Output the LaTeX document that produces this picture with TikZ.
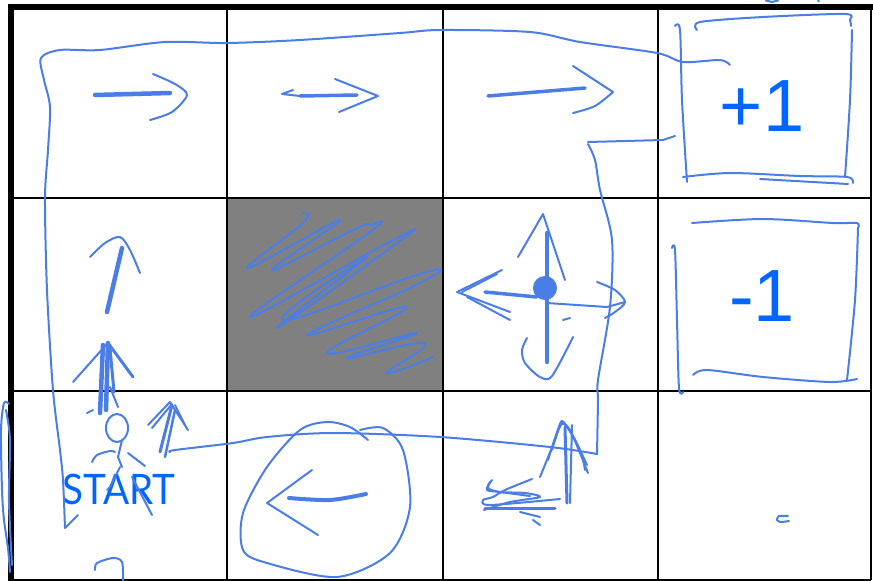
\documentclass[tikz,border=0pt]{standalone}
\usepackage{fontspec}
\setmainfont{Liberation Sans}
\newfontfamily\startfont{Lato}
\usepackage{tikz}
\definecolor{ink}{HTML}{4A7EE6}
\definecolor{label}{HTML}{0066FF}
\definecolor{wall}{HTML}{808080}

\begin{document}
\begin{tikzpicture}[
  x=1pt,y=-1pt,
  pen/.style={draw=ink,line width=2pt,line cap=round,line join=round},
  fatpen/.style={pen,line width=4.5pt},
  grid/.style={draw=black,line width=2pt},
  border/.style={draw=black,line width=6pt},
  reward/.style={text=label,inner sep=0pt,font=\fontsize{74}{74}\selectfont}
]
\useasboundingbox (0,0) rectangle (873,581);
\fill[white] (0,0) rectangle (873,581);

% the board
\fill[wall] (227,198) rectangle (443,391);
\draw[grid] (227,8) -- (227,579) (443,8) -- (443,579) (658,8) -- (658,579);
\draw[grid] (11,198) -- (871,198) (11,391) -- (871,391);
\draw[grid] (871,8) -- (871,580) (11,579.5) -- (871,579.5);
\draw[border] (11,7) -- (873,7) (11,4) -- (11,581);

% labels
\node[reward] (plus) at (762,106) {+1};
\node[reward] (minus) at (762,296) {-1};
\node[text=label,inner sep=0pt,xscale=0.92,font=\startfont\fontsize{42}{42}\selectfont] (start) at (119,489) {START};

% route around the top
\draw[pen] (78,515) -- (65,528);
\draw[pen] plot[smooth] coordinates {(65,528) (63,480) (60,450) (53,390) (47,290) (45,198) (48,150) (50,107) (44,80) (41,58)
  (60,50) (100,50) (165,42) (227,43) (300,40) (400,33) (440,30) (530,32) (580,42) (657,53) (683,62) (720,60) (730,65)};
% route along the bottom
\draw[pen] plot[smooth] coordinates {(170,452) (175,450) (233,443) (267,437) (333,433) (440,437) (550,447) (597,454)};
\draw[pen] plot[smooth] coordinates {(597,454) (598,400) (598,380) (610,307) (612,240) (600,190) (595,160) (588,144)};
\draw[pen] (588,142) -- (663,140) -- (675,136);

% +1 box
\draw[pen] plot[smooth] coordinates {(675,26) (680,30) (682,100) (687,182)};
\draw[pen] plot[smooth] coordinates {(697,30) (700,22) (763,17) (845,14) (850,20) (851,26)};
\draw[pen] plot[smooth] coordinates {(852,30) (850,100) (845,177)};
\draw[pen] plot[smooth] coordinates {(683,177) (730,173) (800,176) (847,177) (853,183)};
\draw[pen] (760,179) -- (848,184);

% -1 box
\draw[pen] plot[smooth] coordinates {(692,223) (763,219) (833,223) (857,223) (858,228)};
\draw[pen] plot[smooth] coordinates {(858,228) (855,300) (847,380)};
\draw[pen] plot[smooth] coordinates {(672,248) (675,250) (677,320) (679,388) (683,392)};
\draw[pen] plot[smooth] coordinates {(693,375) (707,370) (763,377) (830,382) (857,379)};

% top row arrows
\draw[fatpen] (95,95) -- (170,93);
\draw[pen] plot[smooth] coordinates {(153,74) (175,84) (187,95) (172,112) (150,120)};
\draw[pen] (293,90) -- (282,94) -- (300,96);
\draw[fatpen,line width=3.5pt] (300,96) -- (357,95);
\draw[pen] (335,79) -- (378,96) -- (339,112);
\draw[fatpen,line width=3.5pt] (488,96) -- (585,88);
\draw[pen] (573,66) -- (613,92);
\draw[pen] plot[smooth] coordinates {(613,92) (595,106) (573,113)};

% up arrows on the left
\draw[fatpen] (107,312) -- (122,248);
\draw[pen] plot[smooth] coordinates {(90,257) (105,243) (120,237) (130,250) (140,273)};
\draw[fatpen] (100,413) -- (103,345);
\draw[fatpen] (106,410) -- (108,343);
\draw[fatpen,line width=3pt] (114,392) -- (110,348);
\draw[pen] (73,382) -- (106,345);
\draw[fatpen,line width=3pt] (108,343) -- (133,377);
\draw[pen] (87,413) -- (93,410) (110,387) -- (118,407);
\draw[pen] (148,425) -- (170,402) -- (188,430);
\draw[pen] (152,428) -- (172,404);
\draw[fatpen,line width=3pt] (160,452) -- (172,405);
\draw[fatpen,line width=2.5pt] (165,457) -- (175,410);
\draw[pen] (175,405) -- (185,425);

% stick figure
\draw[pen] (117,428) ellipse[x radius=11,y radius=14];
\draw[pen] (122,440) -- (118,457) -- (122,467);
\draw[pen] plot[smooth] coordinates {(92,462) (97,455) (110,451) (115,452)};
\draw[pen] (128,453) -- (145,466);
\draw[pen] (120,467) -- (110,487) -- (107,490);
\draw[pen] (132,477) -- (152,515);
\draw[pen] plot[smooth] coordinates {(95,570) (97,563) (113,558) (122,562) (123,581)};

% left margin scribble
\draw[pen] plot[smooth] coordinates {(9,404) (4,403) (1,430) (2,490) (4,520) (8,548) (10,572)};
\draw[pen] plot[smooth] coordinates {(6,410) (10,440) (9,500) (12,565)};

% circled left arrow
\draw[pen] plot[smooth] coordinates {(368,440) (350,427) (327,422) (300,430) (267,467) (243,513) (243,550)
  (267,563) (337,577) (390,553) (410,507) (403,450) (383,428) (360,430)};
\draw[pen] (312,470) -- (267,503) -- (318,535);
\draw[fatpen,line width=4pt] plot[smooth] coordinates {(289,498) (330,500) (366,494)};

% four-way arrows
\draw[pen] (518,257) -- (543,214) -- (565,280);
\draw[fatpen] (547,233) -- (547,362);
\draw[pen,fill=ink] (545,288) circle[radius=11];
\draw[pen] (502,270) -- (457,292) -- (510,312);
\draw[pen] (467,297) -- (510,320);
\draw[pen] (497,274) -- (462,292);
\draw[fatpen,line width=3.5pt] (485,292) -- (537,297);
\draw[pen] (547,303) -- (607,307) -- (625,302);
\draw[pen] plot[smooth] coordinates {(597,282) (615,290) (625,302) (615,312) (605,318)};
\draw[pen] plot[smooth] coordinates {(527,338) (522,350) (525,363) (540,377) (552,376) (573,337)};
\draw[pen] (563,320) -- (570,318);

% stacked arrows
\draw[pen] plot[smooth,tension=0.4] coordinates {(540,477) (555,440) (562,421) (575,440) (587,465)};
\draw[pen] plot[smooth,tension=0.4] coordinates {(548,460) (560,425) (570,430) (588,473)};
\draw[pen] plot[smooth,tension=0.5] coordinates {(552,450) (563,423) (580,450) (585,470)};
\draw[fatpen,line width=3pt] (565,427) -- (567,503);
\draw[pen] (572,425) -- (570,503);
\draw[pen] plot[smooth] coordinates {(532,479) (505,490) (493,497) (483,500) (490,505) (560,499)};
\draw[pen] plot[smooth] coordinates {(492,480) (488,488) (500,492) (525,493) (540,497) (510,502) (484,510)};
\draw[fatpen,line width=3pt] (485,508) -- (555,508);
\draw[pen] plot[smooth] coordinates {(490,482) (487,490) (500,492) (530,496)};
\draw[pen] (520,512) -- (540,517) (533,520) -- (540,525);

% blocked cell scribble
\draw[pen] plot[smooth,tension=0.75] coordinates {(303,213) (303,223) (248,268) (340,220) (272,270) (353,230)
  (370,225) (370,232) (250,317) (393,240) (397,243) (277,328) (367,257) (283,320) (423,273) (420,283)
  (307,335) (407,307) (327,353) (417,333) (347,358) (425,343) (387,373) (433,357)};

% small marks
\draw[pen] plot[smooth] coordinates {(788,516) (779,516) (777,520) (781,522) (789,521)};
\draw[pen] (766,0.5) -- (772,2) -- (778,0.5);
\draw[pen] (818,0.5) -- (819,1.5);
\end{tikzpicture}
\end{document}
